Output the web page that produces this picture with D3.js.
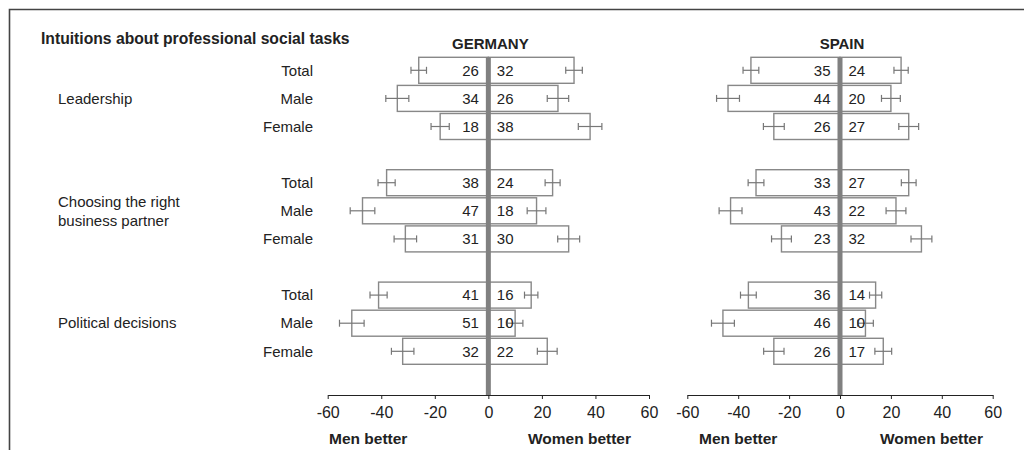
<!DOCTYPE html>
<html>
<head>
<meta charset="utf-8">
<script src="https://cdn.jsdelivr.net/npm/d3@7"></script>
<style>
  body { margin: 0; background: #fff; }
  text { font-family: 'Liberation Sans', Arial, sans-serif; fill: #222; }
</style>
</head>
<body>
<script>
// tasks and respondent groups
const tasks = ['Leadership', 'Choosing the right|business partner', 'Political decisions']
const groups = ['Total', 'Male', 'Female']

// percentages, rows ordered task by task, Total / Male / Female
const germanyMen = [26, 34, 18, 38, 47, 31, 41, 51, 32]
const germanyWomen = [32, 26, 38, 24, 18, 30, 16, 10, 22]
const germanyMenErr = [2.9, 4.3, 3.4, 3.2, 4.6, 4.2, 3.2, 4.6, 4.2]
const germanyWomenErr = [3.1, 4.0, 4.4, 2.8, 3.5, 4.1, 2.5, 2.9, 3.7]

const spainMen = [35, 44, 26, 33, 43, 23, 36, 46, 26]
const spainWomen = [24, 20, 27, 27, 22, 32, 14, 10, 17]
const spainMenErr = [3.1, 4.5, 4.1, 3.1, 4.5, 3.9, 3.1, 4.5, 4.0]
const spainWomenErr = [2.8, 3.7, 3.9, 2.9, 3.9, 4.1, 2.4, 3.1, 3.3]

const tickValues = [-60, -40, -20, 0, 20, 40, 60]

const width = 1024
const height = 450
const axisY = 395
const barH = 26

const svg = d3.select('body')
  .append('svg')
  .attr('width', width)
  .attr('height', height)

// open frame (top + left)
svg.append('path')
  .attr('d', `M9.5,${height} V9.5 H${width}`)
  .attr('fill', 'none')
  .attr('stroke', '#444')
  .attr('stroke-width', 1.6)

svg.append('text')
  .attr('x', 41)
  .attr('y', 44)
  .style('font-size', '15.7px')
  .style('font-weight', 'bold')
  .text('Intuitions about professional social tasks')

// row index -> y position (one empty row between tasks)
const rowIndex = i => Math.floor(i / 3) * 4 + (i % 3)
const y = d3.scaleLinear()
  .domain([0, 10])
  .range([70.3, 351.3])

// left labels
tasks.forEach((t, ti) => {
  const lines = t.split('|')
  const cy = y(ti * 4 + 1)
  const lbl = svg.append('text')
    .attr('x', 58)
    .attr('y', cy - (lines.length - 1) * 9.5)
    .style('font-size', '15px')
  lines.forEach((l, li) => {
    lbl.append('tspan')
      .attr('x', 58)
      .attr('dy', li === 0 ? '0.35em' : 19)
      .text(l)
  })
  groups.forEach((g, gi) => {
    svg.append('text')
      .attr('x', 313)
      .attr('y', y(ti * 4 + gi))
      .attr('dy', '0.35em')
      .attr('text-anchor', 'end')
      .style('font-size', '15px')
      .text(g)
  })
})

const panels = [
  { name: 'GERMANY', men: germanyMen, women: germanyWomen, menErr: germanyMenErr, womenErr: germanyWomenErr, range: [327.7, 649], menX: 329, womenX: 631 },
  { name: 'SPAIN', men: spainMen, women: spainWomen, menErr: spainMenErr, womenErr: spainWomenErr, range: [687.3, 992.7], menX: 699, womenX: 983 }
]

panels.forEach(p => {
  const x = d3.scaleLinear()
    .domain([-60, 60])
    .range(p.range)
  const g = svg.append('g')

  g.append('text')
    .attr('x', x(0) + 2)
    .attr('y', 49)
    .attr('text-anchor', 'middle')
    .style('font-size', '15px')
    .style('font-weight', 'bold')
    .text(p.name)

  // build rows for both sides
  const rows = []
  p.men.forEach((v, i) => {
    rows.push({ side: -1, v: v, err: p.menErr[i], r: rowIndex(i) })
    rows.push({ side: 1, v: p.women[i], err: p.womenErr[i], r: rowIndex(i) })
  })

  g.selectAll('rect.bar')
    .data(rows)
    .enter()
    .append('rect')
    .attr('class', 'bar')
    .attr('x', d => d.side < 0 ? x(-d.v) : x(0))
    .attr('width', d => Math.abs(x(d.v) - x(0)))
    .attr('y', d => y(d.r) - barH / 2)
    .attr('height', barH)
    .style('fill', '#fff')
    .style('stroke', '#888')
    .style('stroke-width', 1.4)

  // error bars
  const eb = g.selectAll('g.err')
    .data(rows)
    .enter()
    .append('g')
    .attr('class', 'err')
    .style('stroke', '#777')
    .style('stroke-width', 1.2)
  eb.append('line')
    .attr('x1', d => x(d.side * (d.v - d.err)))
    .attr('x2', d => x(d.side * (d.v + d.err)))
    .attr('y1', d => y(d.r))
    .attr('y2', d => y(d.r))
  eb.append('line')
    .attr('x1', d => x(d.side * (d.v - d.err)))
    .attr('x2', d => x(d.side * (d.v - d.err)))
    .attr('y1', d => y(d.r) - 3.5)
    .attr('y2', d => y(d.r) + 3.5)
  eb.append('line')
    .attr('x1', d => x(d.side * (d.v + d.err)))
    .attr('x2', d => x(d.side * (d.v + d.err)))
    .attr('y1', d => y(d.r) - 3.5)
    .attr('y2', d => y(d.r) + 3.5)

  // axis
  const axis = g.append('g')
    .attr('transform', `translate(0,${axisY})`)
    .call(d3.axisBottom(x).tickValues(tickValues).tickFormat(d => String(d)).tickSize(4).tickSizeOuter(0).tickPadding(8))
  axis.select('.domain').attr('stroke', '#222')
  axis.selectAll('.tick line').attr('stroke', '#222')
  axis.selectAll('.tick text')
    .style('font-size', '16px')
    .style('font-family', "'Liberation Sans', Arial, sans-serif")
    .attr('fill', '#222')

  // zero line
  g.append('line')
    .attr('x1', x(0))
    .attr('x2', x(0))
    .attr('y1', y(0) - barH / 2)
    .attr('y2', axisY)
    .style('stroke', '#808080')
    .style('stroke-width', 5)

  // value labels
  g.selectAll('text.val')
    .data(rows)
    .enter()
    .append('text')
    .attr('class', 'val')
    .attr('x', d => d.side < 0 ? x(0) - 9.5 : x(0) + 8.5)
    .attr('y', d => y(d.r))
    .attr('dy', '0.35em')
    .attr('text-anchor', d => d.side < 0 ? 'end' : 'start')
    .style('font-size', '15px')
    .text(d => d.v)

  g.append('text')
    .attr('x', p.menX)
    .attr('y', 444)
    .style('font-size', '15.5px')
    .style('font-weight', 'bold')
    .text('Men better')
  g.append('text')
    .attr('x', p.womenX)
    .attr('y', 444)
    .attr('text-anchor', 'end')
    .style('font-size', '15.5px')
    .style('font-weight', 'bold')
    .text('Women better')
})
</script>
</body>
</html>
